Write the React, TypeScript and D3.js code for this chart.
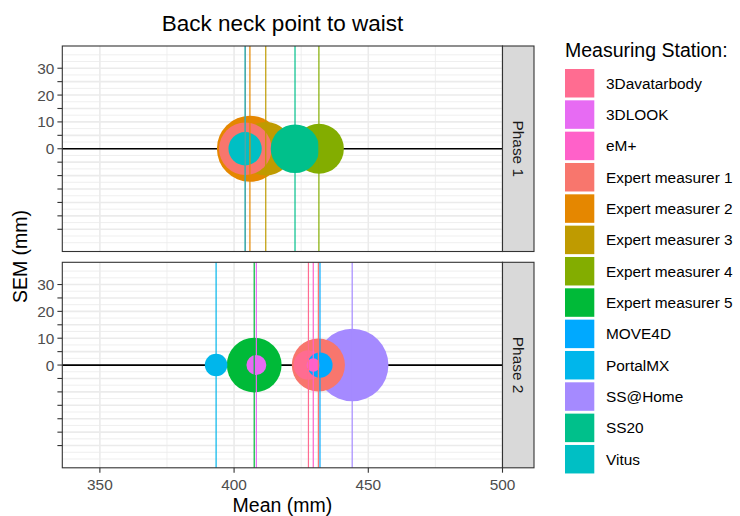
import React from "react";
import * as d3 from "d3";

// stations and their fill colours (legend order)
const stations = [
  "3Davatarbody",
  "3DLOOK",
  "eM+",
  "Expert measurer 1",
  "Expert measurer 2",
  "Expert measurer 3",
  "Expert measurer 4",
  "Expert measurer 5",
  "MOVE4D",
  "PortalMX",
  "SS@Home",
  "SS20",
  "Vitus",
];
const stationColors = [
  "#FF6C91",
  "#E76BF3",
  "#FF61C9",
  "#F8766D",
  "#E58700",
  "#BF9B00",
  "#83AD00",
  "#00BA38",
  "#00A9FF",
  "#00B6EB",
  "#A58AFF",
  "#00C08B",
  "#00BFC4",
];

const phases = ["Phase 1", "Phase 2"];

// Phase 1
const phase1Station = [
  "Expert measurer 1",
  "Expert measurer 2",
  "Expert measurer 3",
  "Expert measurer 4",
  "SS20",
  "Vitus",
];
const phase1Mean = [404.2, 405.9, 411.8, 431.6, 422.7, 404.1];
const phase1Sem = [9.8, 12.3, 10.0, 9.3, 9.05, 6.2];

// Phase 2
const phase2Station = [
  "3Davatarbody",
  "3DLOOK",
  "eM+",
  "Expert measurer 1",
  "Expert measurer 5",
  "MOVE4D",
  "PortalMX",
  "SS@Home",
];
const phase2Mean = [427.7, 408.3, 429.5, 431.4, 407.5, 432.0, 393.3, 444.0];
const phase2Sem = [5.5, 3.7, 2.5, 9.9, 10.2, 4.7, 4.2, 13.5];

const xTicks = [350, 400, 450, 500];
const xMinor = [375, 425, 475];
const yTicks = [-30, -25, -20, -15, -10, -5, 0, 5, 10, 15, 20, 25, 30];
const yLabels = ["", "", "", "", "", "", "0", "", "10", "", "20", "", "30"];
const yMinor = [-35, -32.5, -27.5, -22.5, -17.5, -12.5, -7.5, -2.5, 2.5, 7.5, 12.5, 17.5, 22.5, 27.5, 32.5, 35];

const font = "'Liberation Sans', Arial, sans-serif";

const W = 740;
const H = 516;
const panelLeft = 62.3;
const panelRight = 502.5;
const panelTops = [46, 262.3];
const panelH = 205.5;
const stripW = 31.5;

const App = () => {
  const color = d3.scaleOrdinal<string, string>().domain(stations).range(stationColors);
  const x = d3.scaleLinear().domain([336, 500]).range([panelLeft, panelRight]);
  const k = (panelRight - panelLeft) / (500 - 336);
  const half = panelH / 2 / k;

  const panelData = [
    phase1Station.map((s, i) => ({ station: s, mean: phase1Mean[i], sem: phase1Sem[i] })),
    phase2Station.map((s, i) => ({ station: s, mean: phase2Mean[i], sem: phase2Sem[i] })),
  ];

  return (
    <svg
      width={W}
      height={H}
      style={{ position: "absolute", left: 0, top: 0, background: "#fff" }}
      fontFamily={font}
    >
      <rect width={W} height={H} fill="#fff" />
      <text x={282.5} y={30.5} textAnchor="middle" fontSize={22.5} fill="#000">
        Back neck point to waist
      </text>

      {phases.map((phase, p) => {
        const top = panelTops[p];
        const y = d3.scaleLinear().domain([-half, half]).range([top + panelH, top]);
        // bigger circles underneath
        const data = [...panelData[p]].sort((a, b) => b.sem - a.sem);
        return (
          <g key={phase}>
            <rect x={panelLeft} y={top} width={panelRight - panelLeft} height={panelH} fill="#fff" />
            {yMinor.map((v) => (
              <line key={"ym" + v} x1={panelLeft} x2={panelRight} y1={y(v)} y2={y(v)} stroke="#EBEBEB" strokeWidth={0.8} />
            ))}
            {xMinor.map((v) => (
              <line key={"xm" + v} x1={x(v)} x2={x(v)} y1={top} y2={top + panelH} stroke="#EBEBEB" strokeWidth={0.8} />
            ))}
            {yTicks.map((v) => (
              <line key={"yg" + v} x1={panelLeft} x2={panelRight} y1={y(v)} y2={y(v)} stroke="#EBEBEB" strokeWidth={1.6} />
            ))}
            {xTicks.map((v) => (
              <line key={"xg" + v} x1={x(v)} x2={x(v)} y1={top} y2={top + panelH} stroke="#EBEBEB" strokeWidth={1.6} />
            ))}
            <line x1={panelLeft} x2={panelRight} y1={y(0)} y2={y(0)} stroke="#000" strokeWidth={1.7} />
            {data.map((d) => (
              <circle key={"c" + d.station} cx={x(d.mean)} cy={y(0)} r={d.sem * k} fill={color(d.station)} />
            ))}
            {panelData[p].map((d) => (
              <line
                key={"v" + d.station}
                x1={x(d.mean)}
                x2={x(d.mean)}
                y1={top}
                y2={top + panelH}
                stroke={color(d.station)}
                strokeWidth={1.2}
              />
            ))}
            <rect
              x={panelLeft}
              y={top}
              width={panelRight - panelLeft}
              height={panelH}
              fill="none"
              stroke="#333333"
              strokeWidth={1.1}
            />
            {/* strip */}
            <rect x={panelRight} y={top} width={stripW} height={panelH} fill="#D9D9D9" stroke="#333333" strokeWidth={1.1} />
            <text
              transform={`translate(${panelRight + stripW / 2}, ${top + panelH / 2}) rotate(90)`}
              textAnchor="middle"
              dy="0.35em"
              fontSize={15.4}
              fill="#1A1A1A"
            >
              {phase}
            </text>
            {/* y axis */}
            {yTicks.map((v, i) => (
              <g key={"yt" + v}>
                <line x1={panelLeft - 4.9} x2={panelLeft} y1={y(v)} y2={y(v)} stroke="#333333" strokeWidth={1.1} />
                <text x={panelLeft - 8} y={y(v)} dy="0.36em" textAnchor="end" fontSize={15.4} fill="#4D4D4D">
                  {yLabels[i]}
                </text>
              </g>
            ))}
          </g>
        );
      })}

      {/* x axis */}
      {xTicks.map((v) => (
        <g key={"xt" + v}>
          <line x1={x(v)} x2={x(v)} y1={panelTops[1] + panelH} y2={panelTops[1] + panelH + 4.9} stroke="#333333" strokeWidth={1.1} />
          <text x={x(v)} y={490} textAnchor="middle" fontSize={15.4} fill="#4D4D4D">
            {v}
          </text>
        </g>
      ))}
      <text x={(panelLeft + panelRight) / 2} y={512} textAnchor="middle" fontSize={19.5} fill="#000">
        Mean (mm)
      </text>
      <text transform="translate(26.7, 256.5) rotate(-90)" textAnchor="middle" fontSize={19.5} fill="#000">
        SEM (mm)
      </text>

      {/* legend */}
      <text x={565} y={56.5} fontSize={19.5} fill="#000">
        Measuring Station:
      </text>
      {stations.map((s, i) => {
        const ky = 67.5 + i * 31.33;
        return (
          <g key={"lg" + s}>
            <rect x={565} y={ky + 1.5} width={29.3} height={28.5} fill={color(s)} />
            <text x={606} y={ky + 15.7} dy="0.35em" fontSize={15.4} fill="#000">
              {s}
            </text>
          </g>
        );
      })}
    </svg>
  );
};

export default App;
